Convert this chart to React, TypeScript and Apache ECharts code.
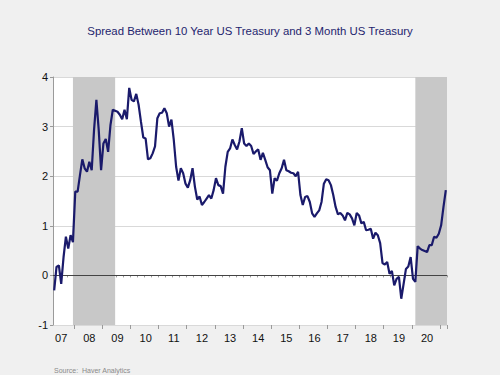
import React, { useEffect, useRef } from "react";
import * as echarts from "echarts";

const START_YEAR = 2007;
const START_MONTH = 4; // April 2007
const MONTH_COUNT = 168;

const months: string[] = Array.from({ length: MONTH_COUNT }, (_, i) => {
  const m0 = START_MONTH - 1 + i;
  const y = START_YEAR + Math.floor(m0 / 12);
  const m = (m0 % 12) + 1;
  return `${y}-${String(m).padStart(2, "0")}`;
});

const spread: number[] = [
  -0.30, 0.17, 0.20, -0.17, 0.37, 0.78, 0.54, 0.81, 0.67, 1.69,
  1.69, 2.02, 2.34, 2.16, 2.09, 2.29, 2.12, 2.93, 3.54, 2.93,
  2.12, 2.66, 2.75, 2.49, 3.03, 3.34, 3.32, 3.30, 3.24, 3.15,
  3.34, 3.15, 3.78, 3.54, 3.51, 3.66, 3.44, 3.10, 2.78, 2.76,
  2.34, 2.36, 2.46, 2.60, 3.17, 3.27, 3.28, 3.37, 3.27, 3.00,
  3.14, 2.73, 2.19, 1.91, 2.16, 2.06, 1.85, 1.77, 1.92, 2.16,
  1.79, 1.53, 1.59, 1.42, 1.48, 1.55, 1.62, 1.55, 1.72, 1.96,
  1.82, 1.80, 1.65, 2.19, 2.49, 2.56, 2.74, 2.63, 2.54, 2.70,
  2.97, 2.66, 2.61, 2.66, 2.61, 2.45, 2.50, 2.54, 2.33, 2.47,
  2.33, 2.18, 2.12, 1.65, 1.96, 1.91, 2.06, 2.16, 2.33, 2.12,
  2.10, 2.07, 2.06, 2.00, 2.09, 1.62, 1.42, 1.58, 1.60, 1.48,
  1.25, 1.18, 1.25, 1.31, 1.48, 1.85, 1.94, 1.92, 1.82, 1.62,
  1.38, 1.23, 1.26, 1.21, 1.11, 1.26, 1.23, 1.15, 1.01, 1.26,
  1.21, 1.05, 1.08, 0.91, 0.92, 0.94, 0.74, 0.86, 0.81, 0.65,
  0.25, 0.22, 0.27, 0.03, 0.09, -0.20, -0.07, -0.03, -0.47, -0.17,
  0.13, 0.18, 0.37, -0.07, -0.13, 0.59, 0.54, 0.51, 0.49, 0.47,
  0.61, 0.61, 0.78, 0.76, 0.84, 1.01, 1.38, 1.72,
];

const recessions: [string, string | null][] = [
  ["2007-12", "2009-06"],
  ["2020-02", null],
];

const TITLE = "Spread Between 10 Year US Treasury and 3 Month US Treasury";
const SOURCE = "Source:  Haver Analytics";
const FONT = "'Liberation Sans', Arial, sans-serif";

const monthOf = (s: string) => parseInt(s.slice(5, 7), 10);

export default function App() {
  const ref = useRef<HTMLDivElement>(null);
  useEffect(() => {
    if (!ref.current) return;
    const chart = echarts.init(ref.current, null, { renderer: "svg" });
    const option: any = {
      animation: false,
      backgroundColor: "#f0f0f0",
      textStyle: { fontFamily: FONT },
      title: {
        text: TITLE,
        left: "center",
        top: 20,
        textStyle: {
          fontSize: 11.4,
          fontWeight: "normal",
          color: "#24246e",
          fontFamily: FONT,
        },
      },
      graphic: [
        {
          type: "text",
          left: 54,
          top: 367,
          style: { text: SOURCE, fontSize: 7, fill: "#8a8a8a", fontFamily: FONT },
        },
      ],
      grid: {
        left: 53,
        right: 53,
        top: 77,
        bottom: 50,
        show: true,
        backgroundColor: "#ffffff",
        borderWidth: 0,
        containLabel: false,
      },
      xAxis: [
        {
          type: "category",
          data: months,
          boundaryGap: true,
          position: "bottom",
          axisLine: { show: true, lineStyle: { color: "#9a9a9a", width: 1 } },
          axisTick: {
            show: true,
            length: 2,
            interval: (i: number) => i % 3 === 0,
            lineStyle: { color: "#9a9a9a" },
          },
          axisLabel: {
            show: true,
            interval: (i: number, v: string) => monthOf(v) === 7,
            formatter: (v: string) => v.slice(2, 4),
            fontSize: 11,
            color: "#111",
            margin: 7,
            fontFamily: FONT,
          },
          splitLine: { show: false },
        },
        {
          type: "category",
          data: months,
          boundaryGap: true,
          position: "bottom",
          offset: 0,
          axisLine: { show: false },
          axisTick: {
            show: true,
            length: 4,
            interval: (i: number, v: string) => monthOf(v) === 1,
            lineStyle: { color: "#9a9a9a" },
          },
          axisLabel: { show: false },
          splitLine: { show: false },
        },
      ],
      yAxis: {
        type: "value",
        min: -1,
        max: 4,
        interval: 1,
        axisLine: { show: true, lineStyle: { color: "#9a9a9a" } },
        axisTick: { show: true, length: 3, lineStyle: { color: "#9a9a9a" } },
        axisLabel: { fontSize: 11, color: "#111", margin: 5, fontFamily: FONT },
        splitLine: { show: true, lineStyle: { color: "#d9d9d9", width: 1 } },
      },
      series: [
        {
          type: "line",
          data: spread,
          xAxisIndex: 0,
          showSymbol: false,
          symbol: "none",
          lineStyle: { color: "#1a1a6b", width: 2.2 },
          z: 5,
          markArea: {
            silent: true,
            itemStyle: { color: "#c8c8c8" },
            data: recessions.map(([a, b]) => [
              { xAxis: a },
              { xAxis: b === null ? Infinity : b },
            ]),
          },
          markLine: {
            silent: true,
            symbol: "none",
            label: { show: false },
            lineStyle: { color: "#444", width: 1, type: "solid" },
            data: [{ yAxis: 0 }],
          },
        },
      ],
    };
    chart.setOption(option);
    return () => chart.dispose();
  }, []);
  return (
    <div
      ref={ref}
      style={{ position: "fixed", left: 0, top: 0, width: 500, height: 375 }}
    />
  );
}
